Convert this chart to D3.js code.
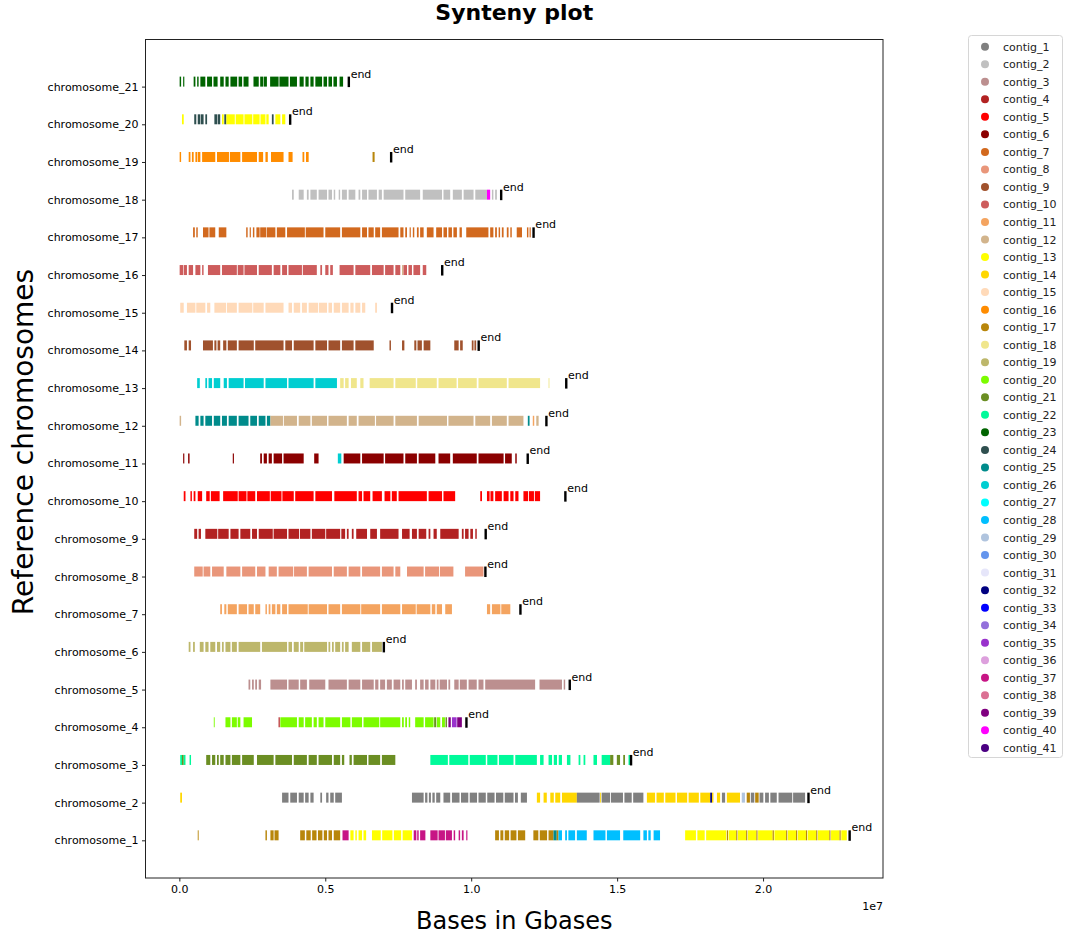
<!DOCTYPE html>
<html>
<head>
<meta charset="utf-8">
<script src="https://cdn.jsdelivr.net/npm/d3@7/dist/d3.min.js"></script>
<style>
  body { margin: 0; background: #fff; }
  text { font-family: "DejaVu Sans", sans-serif; }
</style>
</head>
<body>
<svg id="chart" width="1065" height="937"></svg>
<script>
// ---------------- DATA (positions in Mb; contig number) ----------------
const chromosomes = ["chromosome_1","chromosome_2","chromosome_3","chromosome_4","chromosome_5","chromosome_6","chromosome_7",
  "chromosome_8","chromosome_9","chromosome_10","chromosome_11","chromosome_12","chromosome_13","chromosome_14",
  "chromosome_15","chromosome_16","chromosome_17","chromosome_18","chromosome_19","chromosome_20","chromosome_21"];

const contigNames = d3.range(1, 42).map(i => "contig_" + i);
const contigColors = ["#808080","#c0c0c0","#bc8f8f","#b22222","#ff0000","#8b0000","#d2691e","#e9967a","#a0522d","#cd5c5c",
  "#f4a460","#d2b48c","#ffff00","#ffd700","#ffdab9","#ff8c00","#b8860b","#f0e68c","#bdb76b","#7cfc00",
  "#6b8e23","#00fa9a","#006400","#2f4f4f","#008b8b","#00ced1","#00ffff","#00bfff","#b0c4de","#6495ed",
  "#e6e6fa","#000080","#0000ff","#9370db","#9932cc","#dda0dd","#c71585","#db7093","#800080","#ff00ff","#4b0082"];

// chromosome end positions (Mb), chromosome_1 .. chromosome_21
const chromEnds = [22.96, 21.55, 15.47, 9.83, 13.37, 7.00, 11.68, 10.48, 10.49, 13.22, 11.93, 12.57, 13.25, 10.25, 7.28, 9.00, 12.13, 11.02, 7.25, 3.79, 5.80];

const xTickValues = [0, 5, 10, 15, 20];
const xTickLabels = ["0.0", "0.5", "1.0", "1.5", "2.0"];

// segments: [start Mb, end Mb, contig]
const seg1 = [[0.63,0.66,17],[2.95,3.00,17],[3.12,3.23,17],[3.26,3.40,17],[4.14,4.30,17],[4.35,4.50,17],[4.55,4.70,17],[4.75,4.90,17],[4.95,5.06,17],
  [5.11,5.23,17],[5.29,5.51,17],[5.59,5.80,37],[5.86,5.97,13],[6.03,6.08,13],[6.14,6.26,13],[6.31,6.40,13],[6.60,6.90,13],[6.95,7.30,13],
  [7.35,7.60,13],[7.65,7.97,13],[8.03,8.12,37],[8.15,8.20,37],[8.25,8.43,37],[8.60,8.85,37],[8.88,9.10,37],[9.13,9.34,37],[9.40,9.45,37],
  [9.57,9.62,37],[9.68,9.74,37],[9.83,9.87,37],[10.82,10.95,17],[11.00,11.10,17],[11.15,11.30,17],[11.35,11.55,17],[11.60,11.85,17],
  [12.13,12.30,17],[12.35,12.60,17],[12.65,12.82,17],[12.82,12.93,25],[12.93,12.99,17],[12.99,13.11,28],[13.22,13.28,28],[13.33,13.56,28],
  [13.62,13.96,28],[14.19,14.60,28],[14.65,15.10,28],[15.21,15.79,28],[15.90,16.02,28],[16.07,16.15,28],[16.25,16.47,28],
  [17.33,17.70,13],[17.75,18.00,13],[18.05,18.74,13],[18.76,18.80,17],[18.82,19.08,13],[19.08,19.12,17],[19.14,19.42,13],[19.42,19.46,17],
  [19.48,19.77,13],[19.77,19.81,17],[19.83,20.33,13],[20.33,20.37,17],[20.39,20.79,13],[20.79,20.83,17],[20.85,21.13,13],[21.13,21.17,17],
  [21.19,21.47,13],[21.47,21.51,17],[21.53,21.82,13],[21.82,21.86,17],[21.88,22.27,13],[22.27,22.31,17],[22.33,22.62,13],[22.62,22.66,17],[22.68,22.87,13]];
const seg2 = [[0.03,0.09,14],[3.52,3.74,1],[3.80,4.03,1],[4.09,4.26,1],[4.31,4.43,1],[4.49,4.60,1],[4.83,4.89,1],[5.03,5.11,1],[5.17,5.29,1],[5.34,5.57,1],
  [7.97,8.37,1],[8.42,8.50,1],[8.55,8.62,1],[8.67,8.75,1],[8.80,8.94,1],[9.05,9.28,1],[9.34,9.60,1],[9.65,9.90,1],[9.95,10.20,1],[10.25,10.50,1],
  [10.55,10.80,1],[10.85,11.10,1],[11.15,11.45,1],[11.50,11.60,1],[11.70,11.91,1],[12.25,12.36,14],[12.48,12.59,14],[12.71,12.83,14],[12.88,13.05,14],
  [13.11,13.62,14],[13.62,14.40,1],[14.42,14.45,14],[14.47,14.76,1],[14.79,15.20,1],[15.25,15.50,1],[15.55,15.90,1],[16.02,16.30,14],[16.35,16.60,14],
  [16.65,17.00,14],[17.05,17.40,14],[17.45,17.80,14],[17.85,18.19,14],[18.19,18.25,32],[18.25,18.30,14],[18.42,18.53,14],[18.59,18.70,1],[18.76,19.21,14],
  [19.27,19.38,29],[19.44,19.55,17],[19.58,19.70,1],[19.73,19.85,17],[19.88,20.01,1],[20.07,20.20,1],[20.25,20.47,1],[20.53,21.00,1],[21.03,21.44,1]];
const seg3 = [[0.03,0.09,22],[0.09,0.15,21],[0.15,0.21,22],[0.35,0.40,22],[0.92,1.06,21],[1.12,1.23,21],[1.29,1.35,21],[1.40,1.52,21],[1.58,1.75,21],
  [1.80,2.09,21],[2.15,2.55,21],[2.66,3.23,21],[3.29,3.86,21],[3.92,4.37,21],[4.43,4.71,21],[4.77,5.23,21],[5.29,5.51,21],[5.57,5.65,21],[5.83,5.91,21],
  [5.97,6.43,21],[6.48,6.88,21],[6.94,7.40,21],[8.60,9.20,22],[9.25,9.90,22],[9.95,10.50,22],[10.55,10.90,22],[10.95,11.45,22],[11.51,12.25,22],
  [12.36,12.48,22],[12.65,12.77,22],[12.83,12.94,22],[13.00,13.11,22],[13.28,13.40,22],[13.68,13.74,22],[13.85,13.91,22],[14.19,14.31,22],[14.47,14.76,22],
  [14.76,14.87,21],[14.99,15.10,21],[15.21,15.27,21],[15.39,15.45,22]];
const seg4 = [[1.18,1.20,20],[1.58,1.75,20],[1.80,1.97,20],[2.00,2.09,20],[2.20,2.49,20],[3.40,3.44,4],[3.46,4.03,20],[4.09,4.26,20],[4.31,4.54,20],
  [4.60,4.71,20],[4.77,4.94,20],[5.00,5.51,20],[5.57,5.86,20],[5.91,6.26,20],[6.31,6.85,20],[6.88,7.57,20],[7.63,7.69,20],[7.74,7.80,20],[7.86,7.91,20],
  [8.08,8.37,20],[8.42,8.71,20],[8.73,8.80,21],[8.82,8.94,20],[9.00,9.10,20],[9.12,9.17,21],[9.22,9.30,39],[9.34,9.50,35],[9.52,9.68,39]];
const seg5 = [[2.37,2.43,3],[2.49,2.55,3],[2.60,2.66,3],[2.72,2.80,3],[3.12,3.69,3],[3.74,4.09,3],[4.14,4.37,3],[4.45,5.00,3],[5.11,5.74,3],[5.80,6.20,3],
  [6.26,6.66,3],[6.71,6.82,3],[6.88,7.05,3],[7.11,7.28,3],[7.34,7.57,3],[7.63,7.69,3],[7.74,7.97,3],[8.08,8.14,3],[8.25,8.37,3],[8.42,8.54,3],[8.60,8.77,3],
  [8.82,8.88,3],[8.92,9.17,3],[9.22,9.28,3],[9.42,9.57,3],[9.61,9.85,3],[9.91,10.19,3],[10.25,10.42,3],[10.48,12.19,3],[12.34,13.11,3],[13.17,13.22,3]];
const seg6 = [[0.32,0.38,19],[0.47,0.53,19],[0.70,0.83,19],[0.89,1.00,19],[1.06,1.23,19],[1.29,1.40,19],[1.46,1.52,19],[1.58,1.75,19],[1.80,1.97,19],
  [2.03,2.77,19],[2.83,3.69,19],[3.74,3.86,19],[3.92,4.09,19],[4.14,4.24,19],[4.28,5.06,19],[5.11,5.17,19],[5.23,5.29,19],[5.34,5.51,19],[5.57,5.63,19],
  [5.68,5.80,19],[5.91,6.20,19],[6.26,6.54,19],[6.60,6.94,19]];
const seg7 = [[1.40,1.46,11],[1.54,1.61,11],[1.66,1.97,11],[2.03,2.32,11],[2.37,2.55,11],[2.60,2.77,11],[2.95,3.00,11],[3.06,3.12,11],[3.17,3.29,11],
  [3.34,3.46,11],[3.52,3.69,11],[3.74,4.40,11],[4.43,5.06,11],[5.11,5.51,11],[5.57,6.20,11],[6.23,6.88,11],[6.94,7.57,11],[7.63,8.10,11],[8.13,8.60,11],
  [8.65,8.77,11],[8.82,9.00,11],[9.11,9.34,11],[10.54,10.65,11],[10.71,11.00,11],[11.03,11.34,11]];
const seg8 = [[0.51,0.80,8],[0.83,1.06,8],[1.12,1.52,8],[1.61,2.09,8],[2.15,2.60,8],[2.66,2.95,8],[3.06,3.34,8],[3.40,3.90,8],[3.93,4.37,8],[4.43,5.23,8],
  [5.29,5.74,8],[5.80,6.20,8],[6.26,6.88,8],[6.94,7.34,8],[7.40,7.57,8],[7.80,8.37,8],[8.42,8.90,8],[8.93,9.39,8],[9.79,10.42,8]];
const seg9 = [[0.51,0.61,4],[0.66,0.74,4],[0.89,1.30,4],[1.33,1.69,4],[1.75,2.03,4],[2.09,2.43,4],[2.49,2.66,4],[2.72,3.20,4],[3.23,3.69,4],[3.74,4.10,4],
  [4.13,4.49,4],[4.54,5.00,4],[5.03,5.51,4],[5.55,5.68,4],[5.74,5.80,4],[5.91,5.97,4],[6.06,6.43,4],[6.54,6.77,4],[6.88,7.51,4],[7.63,7.89,4],[7.97,8.14,4],
  [8.20,8.46,4],[8.54,8.60,4],[8.71,8.82,4],[8.94,9.57,4],[9.68,9.74,4],[9.79,9.91,4],[9.97,10.06,4],[10.14,10.19,4]];
const seg10 = [[0.15,0.21,5],[0.38,0.43,5],[0.49,0.55,5],[0.63,0.78,5],[0.92,1.04,5],[1.08,1.38,5],[1.50,2.00,5],[2.03,2.30,5],[2.33,2.60,5],[2.66,3.10,5],
  [3.13,3.50,5],[3.53,3.92,5],[3.97,4.60,5],[4.66,5.23,5],[5.31,6.08,5],[6.14,6.26,5],[6.31,6.54,5],[6.62,6.94,5],[7.03,7.23,5],[7.28,7.45,5],[7.51,8.48,5],
  [8.54,9.00,5],[9.05,9.45,5],[10.31,10.37,5],[10.54,10.63,5],[10.66,10.76,5],[10.82,11.05,5],[11.11,11.28,5],[11.34,11.45,5],[11.51,11.62,5],
  [11.79,11.95,5],[11.98,12.15,5],[12.18,12.36,5]];
const seg11 = [[0.13,0.17,6],[0.30,0.35,6],[1.83,1.87,6],[2.77,2.83,6],[2.89,3.00,6],[3.06,3.17,6],[3.23,3.52,6],[3.57,4.26,6],[4.62,4.77,6],[5.43,5.55,26],
  [5.63,6.20,6],[6.26,7.00,6],[7.05,7.68,6],[7.74,8.14,6],[8.20,8.77,6],[8.88,9.28,6],[9.37,10.19,6],[10.25,11.11,6],[11.16,11.39,6],[11.51,11.56,6]];
const seg12 = [[0.01,0.06,12],[0.55,0.66,25],[0.72,0.83,25],[0.89,1.12,25],[1.18,1.40,25],[1.46,1.63,25],[1.69,1.97,25],[2.03,2.37,25],[2.43,2.66,25],
  [2.72,2.95,25],[3.00,3.12,25],[3.12,3.55,12],[3.58,4.03,12],[4.09,4.49,12],[4.54,5.06,12],[5.11,5.74,12],[5.80,6.08,12],[6.14,6.70,12],[6.74,7.34,12],
  [7.40,8.14,12],[8.20,9.17,12],[9.22,10.08,12],[10.14,10.65,12],[10.71,11.22,12],[11.28,11.79,12],[11.94,12.00,25],[12.11,12.16,11],[12.23,12.31,12]];
const seg13 = [[0.61,0.70,26],[0.89,0.95,26],[1.00,1.12,26],[1.18,1.40,26],[1.52,1.63,26],[1.69,2.20,26],[2.25,2.89,26],[2.95,3.69,26],[3.74,4.60,26],
  [4.66,5.40,26],[5.51,5.63,18],[5.68,5.80,18],[5.88,6.08,18],[6.20,6.31,18],[6.52,7.34,18],[7.40,8.10,18],[8.15,8.82,18],[8.88,9.50,18],[9.55,10.19,18],
  [10.25,11.22,18],[11.28,12.36,18],[12.65,12.68,18]];
const seg14 = [[0.17,0.26,9],[0.32,0.40,9],[0.81,1.15,9],[1.20,1.27,9],[1.31,1.40,9],[1.50,1.61,9],[1.66,1.97,9],[2.03,2.55,9],[2.60,3.57,9],[3.63,3.86,9],
  [3.92,4.60,9],[4.66,5.06,9],[5.11,5.51,9],[5.57,5.97,9],[6.03,6.66,9],[7.20,7.25,9],[7.63,7.71,9],[8.05,8.12,9],[8.16,8.31,9],[8.37,8.60,9],[9.42,9.57,9],
  [9.62,9.71,9],[10.02,10.08,9],[10.11,10.17,9]];
const seg15 = [[0.03,0.15,15],[0.26,0.55,15],[0.58,0.89,15],[0.95,1.06,15],[1.20,1.60,15],[1.63,1.97,15],[2.03,2.50,15],[2.53,2.89,15],[2.95,3.57,15],
  [3.74,3.86,15],[3.92,4.14,15],[4.20,4.37,15],[4.43,4.75,15],[4.78,5.06,15],[5.11,5.23,15],[5.29,5.51,15],[5.57,5.80,15],[5.86,5.97,15],[6.03,6.20,15],
  [6.26,6.37,15],[6.71,6.77,15]];
const seg16 = [[0.01,0.13,10],[0.15,0.26,10],[0.32,0.47,10],[0.55,0.72,10],[0.78,0.83,10],[0.98,1.40,10],[1.46,1.97,10],[2.00,2.20,10],[2.23,2.66,10],
  [2.72,3.17,10],[3.23,3.46,10],[3.52,3.69,10],[3.74,4.20,10],[4.23,4.71,10],[4.83,4.89,10],[5.00,5.11,10],[5.17,5.26,10],[5.49,5.97,10],[6.03,6.54,10],
  [6.60,7.00,10],[7.05,7.34,10],[7.40,7.57,10],[7.63,7.68,12],[7.68,7.80,10],[7.85,7.97,10],[8.02,8.25,10],[8.34,8.46,10]];
const seg17 = [[0.47,0.53,7],[0.58,0.63,7],[0.81,1.00,7],[1.03,1.23,7],[1.35,1.61,7],[2.29,2.34,7],[2.41,2.45,7],[2.52,2.57,7],[2.64,2.75,7],[2.77,2.98,7],
  [3.00,3.29,7],[3.34,3.63,7],[3.69,4.30,7],[4.33,4.94,7],[5.00,5.51,7],[5.57,6.20,7],[6.26,6.43,7],[6.48,6.66,7],[6.71,6.88,7],[6.94,7.51,7],[7.57,7.68,7],
  [7.74,7.80,7],[7.89,7.93,7],[8.00,8.05,7],[8.14,8.20,7],[8.25,8.37,7],[8.48,8.71,7],[8.80,9.00,7],[9.05,9.17,7],[9.22,9.34,7],[9.39,9.51,7],[9.60,9.68,7],
  [9.83,10.59,7],[10.65,10.76,7],[10.82,10.88,7],[10.94,10.99,7],[11.05,11.11,7],[11.22,11.28,7],[11.34,11.39,7],[11.56,11.74,7],[11.91,11.96,7],[12.00,12.04,7]];
const seg18 = [[3.86,3.92,2],[4.09,4.26,2],[4.37,4.43,2],[4.49,4.71,2],[4.77,5.06,2],[5.11,5.23,2],[5.29,5.34,2],[5.46,5.51,2],[5.57,5.74,2],[5.80,6.03,2],
  [6.14,6.20,2],[6.26,6.43,2],[6.48,6.77,2],[6.83,6.94,2],[7.00,7.68,2],[7.74,8.25,2],[8.34,9.00,2],[9.05,9.28,2],[9.37,9.68,2],[9.74,10.08,2],[10.14,10.54,2],
  [10.54,10.65,40],[10.71,10.76,2],[10.82,10.88,2]];
const seg19 = [[0.01,0.06,16],[0.32,0.38,16],[0.43,0.49,16],[0.55,0.61,16],[0.63,0.72,16],[0.78,1.23,16],[1.29,1.70,16],[1.73,2.09,16],[2.15,2.66,16],
  [2.72,2.87,16],[2.95,3.03,16],[3.14,3.57,16],[3.74,3.88,16],[4.22,4.28,16],[4.34,4.43,16],[6.62,6.69,17]];
const seg20 = [[0.09,0.15,13],[0.51,0.58,24],[0.63,0.72,24],[0.74,0.83,24],[0.89,0.95,24],[1.20,1.29,24],[1.31,1.40,24],[1.46,1.52,13],[1.54,1.61,24],
  [1.61,1.90,13],[1.93,2.20,13],[2.23,2.50,13],[2.53,2.75,13],[2.78,2.95,13],[2.98,3.06,13],[3.17,3.23,24],[3.29,3.46,13],[3.52,3.63,13]];
const seg21 = [[0.01,0.06,23],[0.13,0.17,23],[0.49,0.55,23],[0.61,0.66,23],[0.72,0.89,23],[0.95,1.12,23],[1.17,1.31,23],[1.40,1.52,23],[1.58,1.69,23],
  [1.75,1.98,23],[2.03,2.15,23],[2.20,2.37,23],[2.54,2.72,23],[2.77,2.88,23],[2.90,3.00,23],[3.11,3.40,23],[3.43,3.74,23],[3.79,4.03,23],[4.12,4.26,23],
  [4.32,4.43,23],[4.49,4.60,23],[4.66,4.89,23],[4.94,5.06,23],[5.11,5.23,23],[5.28,5.40,23],[5.49,5.61,23]];

const segmentsByChrom = [seg1,seg2,seg3,seg4,seg5,seg6,seg7,seg8,seg9,seg10,seg11,seg12,seg13,seg14,seg15,seg16,seg17,seg18,seg19,seg20,seg21];

// ---------------- LAYOUT ----------------
const svg = d3.select("#chart");
const M = { left: 145.5, right: 883, top: 39.5, bottom: 878 };
const x = d3.scaleLinear().domain([-1.16, 24.11]).range([M.left, M.right]);
const y = d3.scaleLinear().domain([0, 22.25]).range([M.bottom, M.top]);
const barH = 0.265; // in y units, bar sits just above its tick
const color = c => contigColors[c - 1];

const rows = segmentsByChrom.flatMap((segs, i) => segs.map(s => ({ chrom: i + 1, s: s[0], e: s[1], c: s[2] })));

const plot = svg.append("g");
plot.selectAll("rect.seg").data(rows).enter().append("rect")
  .attr("class", "seg")
  .attr("x", d => x(d.s))
  .attr("width", d => Math.max(0.9, x(d.e) - x(d.s)))
  .attr("y", d => y(d.chrom + barH))
  .attr("height", d => y(d.chrom) - y(d.chrom + barH))
  .attr("fill", d => color(d.c));

// end markers
const ends = chromEnds.map((v, i) => ({ chrom: i + 1, v }));
plot.selectAll("rect.end").data(ends).enter().append("rect")
  .attr("x", d => x(d.v) - 1)
  .attr("width", 2.4)
  .attr("y", d => y(d.chrom + barH))
  .attr("height", d => y(d.chrom) - y(d.chrom + barH) + 0.5)
  .attr("fill", "#000");
plot.selectAll("text.end").data(ends).enter().append("text")
  .attr("x", d => x(d.v) + 2)
  .attr("y", d => y(d.chrom + barH) + 1)
  .attr("font-size", 11)
  .attr("fill", "#000")
  .text("end");

// frame
svg.append("rect")
  .attr("x", M.left).attr("y", M.top)
  .attr("width", M.right - M.left).attr("height", M.bottom - M.top)
  .attr("fill", "none").attr("stroke", "#222").attr("stroke-width", 1);

// axes
const yAxis = d3.axisLeft(y).tickValues(d3.range(1, 22)).tickFormat(i => chromosomes[i - 1]).tickSize(3.5).tickPadding(3.5);
const gy = svg.append("g").attr("transform", `translate(${M.left},0)`).call(yAxis);
gy.select(".domain").remove();
gy.selectAll("text").attr("font-size", 11).attr("font-family", "DejaVu Sans").attr("fill", "#000");
gy.selectAll("line").attr("stroke", "#222");

const xAxis = d3.axisBottom(x).tickValues(xTickValues).tickFormat((d, i) => xTickLabels[i]).tickSize(3.5).tickPadding(3.5);
const gx = svg.append("g").attr("transform", `translate(0,${M.bottom})`).call(xAxis);
gx.select(".domain").remove();
gx.selectAll("text").attr("font-size", 11).attr("font-family", "DejaVu Sans").attr("fill", "#000");
gx.selectAll("line").attr("stroke", "#222");

svg.append("text").attr("x", M.right).attr("y", 910).attr("text-anchor", "end")
  .attr("font-size", 11).text("1e7");

// titles
svg.append("text").attr("x", (M.left + M.right) / 2).attr("y", 20).attr("text-anchor", "middle")
  .attr("font-size", 22).attr("font-weight", "bold").text("Synteny plot");
svg.append("text").attr("x", (M.left + M.right) / 2).attr("y", 929).attr("text-anchor", "middle")
  .attr("font-size", 24).text("Bases in Gbases");
svg.append("text").attr("transform", `translate(33,${442}) rotate(-90)`).attr("text-anchor", "middle")
  .attr("font-size", 28).text("Reference chromosomes");

// legend
const L = { x: 968.5, y: 35.5, w: 94, h: 722, first: 46.7, step: 17.53 };
const leg = svg.append("g");
leg.append("rect").attr("x", L.x).attr("y", L.y).attr("width", L.w).attr("height", L.h)
  .attr("rx", 3).attr("fill", "#fff").attr("stroke", "#d6d6d6");
const items = leg.selectAll("g.item").data(contigNames).enter().append("g")
  .attr("transform", (d, i) => `translate(0,${L.first + i * L.step})`);
items.append("circle").attr("cx", 985).attr("cy", 0).attr("r", 4).attr("fill", (d, i) => contigColors[i]);
items.append("text").attr("x", 1003).attr("y", 4).attr("font-size", 11).attr("fill", "#222").text(d => d);
</script>
</body>
</html>
